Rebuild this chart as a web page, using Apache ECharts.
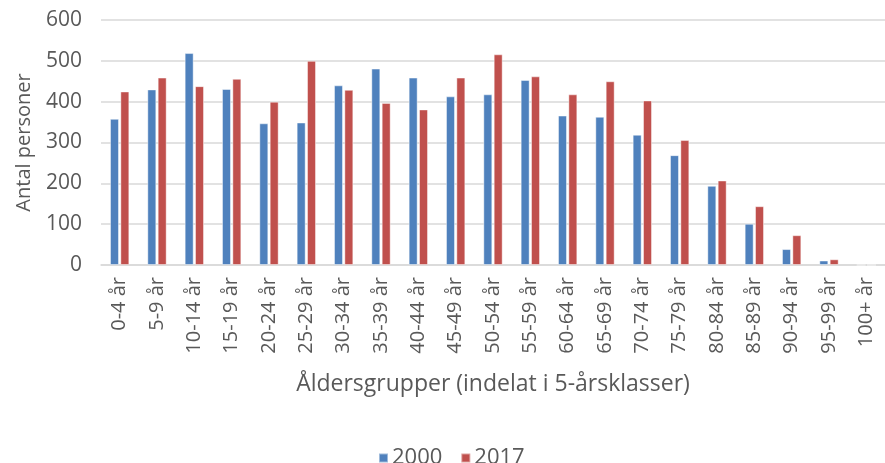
<!DOCTYPE html>
<html>
<head>
<meta charset="utf-8">
<script src="https://cdn.jsdelivr.net/npm/echarts@6/dist/echarts.min.js"></script>
<style>
  html, body { margin: 0; padding: 0; background: #fff; }
  #chart { width: 885px; height: 463px; }
</style>
</head>
<body>
<div id="chart"></div>
<script>
// åldersgrupper
const categories = [
  "0-4 år", "5-9 år", "10-14 år", "15-19 år", "20-24 år", "25-29 år", "30-34 år",
  "35-39 år", "40-44 år", "45-49 år", "50-54 år", "55-59 år", "60-64 år", "65-69 år",
  "70-74 år", "75-79 år", "80-84 år", "85-89 år", "90-94 år", "95-99 år", "100+ år"
];
const values2000 = [358, 430, 519, 431, 347, 349, 440, 481, 459, 413, 418, 453, 366, 363, 319, 269, 194, 101, 39, 11, 0];
const values2017 = [425, 459, 438, 456, 400, 500, 429, 397, 381, 459, 516, 462, 418, 450, 403, 306, 207, 144, 73, 14, 0];
const yTicks = { min: 0, max: 600, interval: 100 };

const textColor = "#595959";
const fontFamily = "Open Sans";

const chart = echarts.init(document.getElementById("chart"), null, { renderer: "canvas" });

const option = {
  animation: false,
  textStyle: { fontFamily: fontFamily, color: textColor },
  grid: {
    left: 101,
    top: 20,
    width: 792,
    bottom: 198,
    containLabel: false,
  },
  legend: {
    data: ["2000", "2017"],
    left: 373,
    top: 442,
    itemWidth: 9,
    itemHeight: 9,
    itemGap: 18,
    icon: "rect",
    textStyle: { fontSize: 22, color: textColor, fontFamily: fontFamily, padding: [0, 0, 0, -1] },
  },
  xAxis: {
    type: "category",
    data: categories,
    axisTick: { show: false },
    axisLine: { lineStyle: { color: "#D9D9D9", width: 1.5 } },
    axisLabel: {
      rotate: 90,
      interval: 0,
      margin: 12,
      fontSize: 20,
      color: textColor,
    },
    name: "Åldersgrupper (indelat i 5-årsklasser)",
    nameLocation: "middle",
    nameGap: 108,
    nameTextStyle: { fontSize: 23, color: textColor },
  },
  yAxis: {
    type: "value",
    min: yTicks.min,
    max: yTicks.max,
    interval: yTicks.interval,
    axisLine: { show: false },
    axisTick: { show: false },
    splitLine: { lineStyle: { color: "#D9D9D9", width: 1.5 } },
    axisLabel: { fontSize: 21, color: textColor, margin: 19 },
    name: "Antal personer",
    nameLocation: "middle",
    nameGap: 67,
    nameTextStyle: { fontSize: 20, color: textColor },
  },
  series: [
    {
      name: "2000",
      type: "bar",
      data: values2000,
      barWidth: 9,
      barGap: "15%",
      itemStyle: { color: "#4F81BD", borderColor: "rgba(255,255,255,0.45)", borderWidth: 1 },
    },
    {
      name: "2017",
      type: "bar",
      data: values2017,
      barWidth: 9,
      itemStyle: { color: "#C0504D", borderColor: "rgba(255,255,255,0.45)", borderWidth: 1 },
    },
  ],
};

chart.setOption(option);
</script>
</body>
</html>
